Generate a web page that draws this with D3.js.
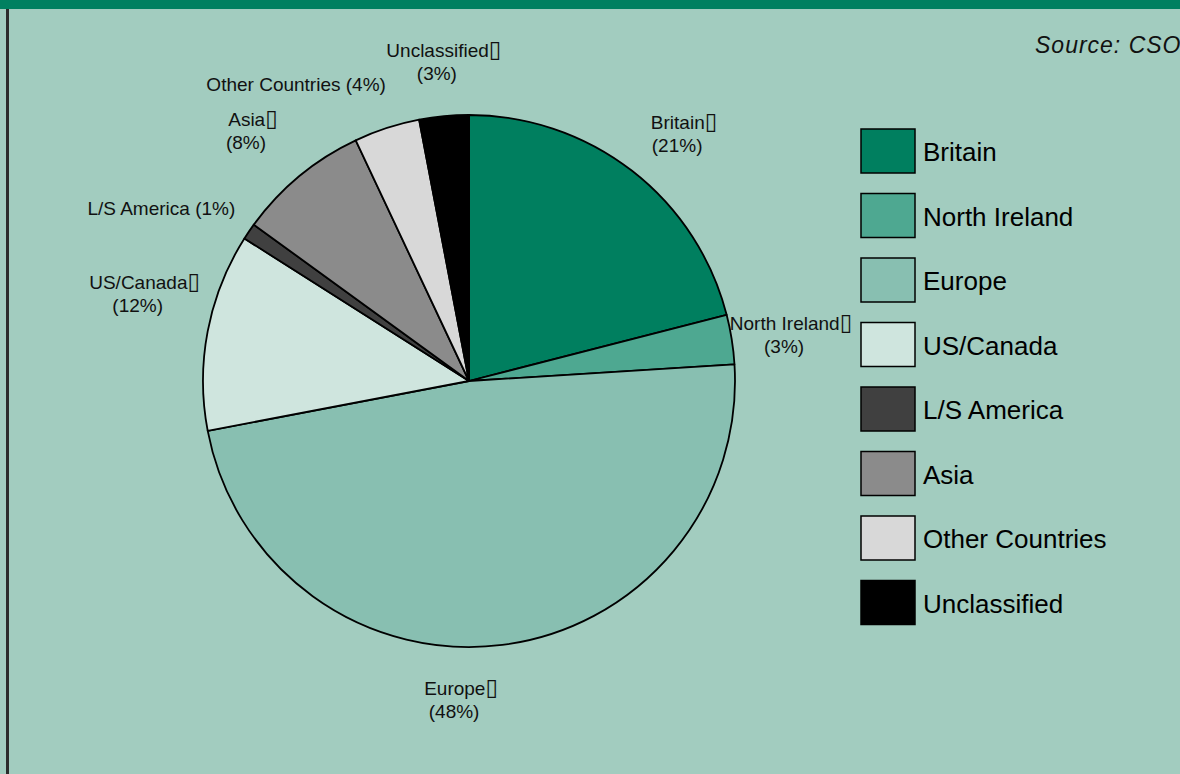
<!DOCTYPE html>
<html>
<head>
<meta charset="utf-8">
<script src="https://cdn.jsdelivr.net/npm/d3@7/dist/d3.min.js"></script>
<style>
  html, body { margin: 0; padding: 0; background: #a2ccbf; }
  svg { display: block; }
</style>
</head>
<body>
<div id="chart-area"></div>
<script>
// data
var categories = ["Britain", "North Ireland", "Europe", "US/Canada", "L/S America", "Asia", "Other Countries", "Unclassified"];
var shares = [21, 3, 48, 12, 1, 8, 4, 3];
var colours = ["#007f5f", "#4ea891", "#88bfb1", "#cfe5de", "#404040", "#8b8b8b", "#d8d8d8", "#000000"];
// labels on two lines (name + box glyph, then percent) or one line
var twoLine = [true, true, true, true, false, true, false, true];

var width = 1180, height = 774;
var cx = 469, cy = 381, radius = 266;
var labelRadius = 320;
// hand placement of labels, as in the original
var labelShift = [[19, 1], [6, -1], [-48, -3], [-10, -32], [-43, 14], [-12, -8], [-74, 14], [5, -5]];

var svg = d3.select("#chart-area")
    .append("svg")
        .attr("width", width)
        .attr("height", height);

svg.append("rect")
    .attr("width", width).attr("height", height)
    .attr("fill", "#a2ccbf");

// top band and left rule
svg.append("rect")
    .attr("x", 0).attr("y", 0)
    .attr("width", width).attr("height", 9)
    .attr("fill", "#008060");
svg.append("rect")
    .attr("x", 6).attr("y", 9)
    .attr("width", 3).attr("height", height - 9)
    .attr("fill", "#2b2b2b");

svg.append("text")
    .attr("x", 1035)
    .attr("y", 53)
    .attr("font-family", "'Liberation Sans', Arial, sans-serif")
    .attr("font-size", "23px")
    .attr("font-style", "italic")
    .attr("letter-spacing", "1px")
    .attr("fill", "#111")
    .text("Source: CSO");

var data = categories.map(function(c, i) {
    return { name: c, value: shares[i], colour: colours[i], two: twoLine[i], shift: labelShift[i] };
});

var pie = d3.pie()
    .sort(null)
    .value(function(d) { return d.value; });

var arc = d3.arc().innerRadius(0).outerRadius(radius);
var labelArc = d3.arc().innerRadius(labelRadius).outerRadius(labelRadius);

var g = svg.append("g")
    .attr("transform", "translate(" + cx + "," + cy + ")");

g.selectAll("path")
    .data(pie(data))
    .enter()
    .append("path")
        .attr("d", arc)
        .attr("fill", function(d) { return d.data.colour; })
        .attr("stroke", "#000")
        .attr("stroke-width", 1.8)
        .attr("stroke-linejoin", "round");

// slice labels
var labels = g.selectAll("text.slice")
    .data(pie(data))
    .enter()
    .append("text")
        .attr("class", "slice")
        .attr("font-family", "'Liberation Sans', Arial, sans-serif")
        .attr("font-size", "19px")
        .attr("fill", "#111")
        .attr("text-anchor", "middle")
        .attr("transform", function(d) {
            var c = labelArc.centroid(d);
            return "translate(" + (c[0] + d.data.shift[0]) + "," + (c[1] + d.data.shift[1]) + ")";
        });

labels.each(function(d) {
    var t = d3.select(this);
    var pct = "(" + d.data.value + "%)";
    if (d.data.two) {
        var l1 = t.append("tspan").attr("x", 0).attr("y", 0).text(d.data.name);
        l1.append("tspan")
            .attr("font-family", "'DejaVu Sans', sans-serif")
            .attr("font-size", "23px")
            .text("\u25AF");
        t.append("tspan").attr("x", -7).attr("y", 23).text(pct);
    } else {
        t.append("tspan").attr("x", 0).attr("y", 0).text(d.data.name + " " + pct);
    }
});

// legend
var legend = svg.append("g")
    .attr("transform", "translate(861,129)");

var item = legend.selectAll("g")
    .data(data)
    .enter()
    .append("g")
        .attr("transform", function(d, i) { return "translate(0," + (i * 64.5) + ")"; });

item.append("rect")
    .attr("width", 54)
    .attr("height", 44)
    .attr("fill", function(d) { return d.colour; })
    .attr("stroke", "#000")
    .attr("stroke-width", 1.5);

item.append("text")
    .attr("x", 62)
    .attr("y", 32)
    .attr("font-family", "'Liberation Sans', Arial, sans-serif")
    .attr("font-size", "26px")
    .attr("fill", "#000")
    .text(function(d) { return d.name; });
</script>
</body>
</html>
